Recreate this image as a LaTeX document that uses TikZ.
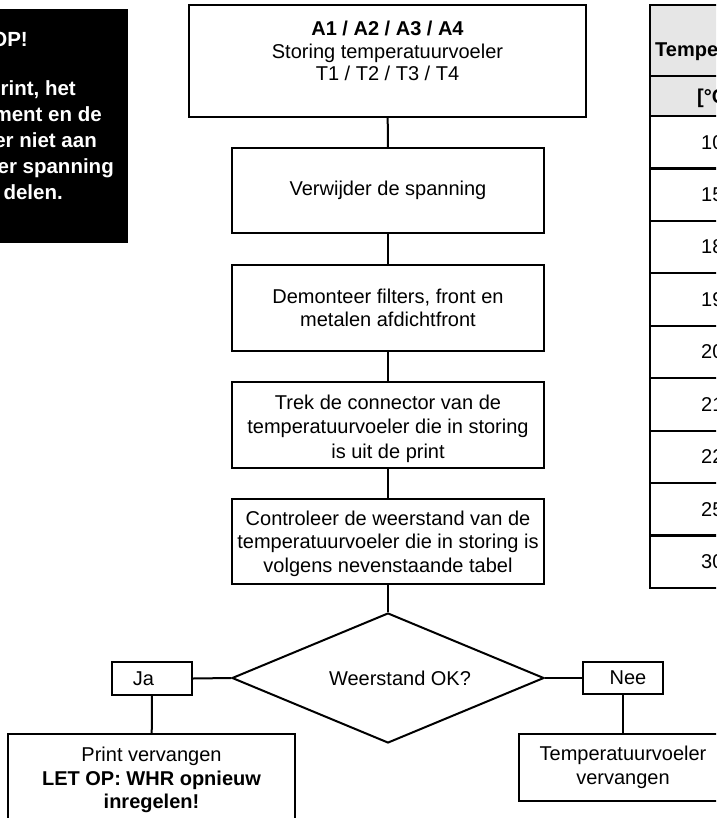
\documentclass[tikz,border=0pt]{standalone}
\usepackage{fontspec}
\setmainfont{Liberation Sans}
\usetikzlibrary{shapes.geometric}
\definecolor{hdrgray}{HTML}{E6E6E6}
\tikzset{
  x=1pt, y=-1pt,
  txt/.style={font=\fontsize{20}{23.5}\selectfont, align=center, inner sep=0pt},
  flowbox/.style={draw, line width=2pt, rectangle, inner sep=0pt, txt},
  link/.style={line width=2pt},
  warn/.style={font=\fontsize{20.5}{26}\selectfont\bfseries, text=white, inner sep=0pt, anchor=mid east},
  tline/.style={line width=2.2pt},
}
\begin{document}
\begin{tikzpicture}
\useasboundingbox (0,0) rectangle (716,818);
\clip (0,0) rectangle (716,818);
\fill[white] (0,0) rectangle (716,818);

% warning box (cropped at left)
\fill[black] (-5,9) rectangle (128,243);
\node[warn] (w1) at (28,44) {OP!};
\node[warn] (w2) at (76,93) {rint, het};
\node[warn] (w3) at (102,119) {ment en de};
\node[warn] (w4) at (97,145) {er niet aan};
\node[warn] (w5) at (114,171) {er spanning};
\node[warn] (w6) at (63,197) {delen.};

% flow chart
\node[flowbox, minimum width=397pt, minimum height=112pt] (b1) at (387.5,61) {};
\node[txt, font=\fontsize{20}{22.5}\selectfont] (t1) at (387.5,51) {\textbf{A1 / A2 / A3 / A4}\\Storing temperatuurvoeler\\T1 / T2 / T3 / T4};
\node[flowbox, minimum width=312pt, minimum height=85pt] (b2) at (388,190.5) {Verwijder de spanning};
\node[flowbox, minimum width=312pt, minimum height=86pt] (b3) at (388,308) {Demonteer filters, front en\\metalen afdichtfront};
\node[txt, font=\fontsize{20}{24.5}\selectfont] (t4) at (388,428.5) {Trek de connector van de\\temperatuurvoeler die in storing\\is uit de print};
\node[flowbox, minimum width=312pt, minimum height=86pt] (b4) at (388,425) {};
\node[flowbox, minimum width=312pt, minimum height=85pt] (b5) at (388,541.5) {};
\node[txt] (t5) at (388,543.5) {Controleer de weerstand van de\\temperatuurvoeler die in storing is\\volgens nevenstaande tabel};
\node[draw, line width=2pt, diamond, aspect=2.4, inner sep=0pt, minimum width=312pt, minimum height=130pt, txt] (d) at (388,678) {\hspace*{24pt}Weerstand OK?};
\node[flowbox, minimum width=80pt, minimum height=33pt] (ja) at (152,678.5) {Ja\hspace*{17pt}};
\node[flowbox, minimum width=80pt, minimum height=32pt] (nee) at (623,678) {\hspace*{10pt}Nee};
\node[flowbox, minimum width=287pt, minimum height=92pt] (pv) at (151.5,780) {Print vervangen\\\textbf{LET OP: WHR opnieuw}\\\textbf{inregelen!}};
\node[flowbox, minimum width=208pt, minimum height=67pt] (tv) at (623,767.5) {Temperatuurvoeler\\vervangen};

\draw[link] (b1) -- (b2);
\draw[link] (b2) -- (b3);
\draw[link] (b3) -- (b4);
\draw[link] (b4) -- (b5);
\draw[link] (b5) -- (d.north);
\draw[link] (d.west) -- (ja.east);
\draw[link] (ja) -- (pv);
\draw[link] (d.east) -- (nee.west);
\draw[link] (nee) -- (tv);

% table (cropped at right)
\fill[hdrgray] (650,5) rectangle (730,116);
\draw[tline] (730,5) -- (650,5) -- (650,588) -- (730,588);
\draw[tline] (650,76) -- (730,76);
\foreach \i in {0,...,8} {
  \draw[tline] (650,{116+52.44*\i}) -- (730,{116+52.44*\i});
}
\node[txt, font=\fontsize{20}{23.5}\selectfont\bfseries, anchor=west] (h1) at (655,52) {Tempe};
\node[txt, font=\fontsize{20}{23.5}\selectfont\bfseries, anchor=west] (h2) at (697,98) {[°C};
\foreach \v [count=\i from 0] in {10,15,18,19,20,21,22,25,30} {
  \node[txt, anchor=west] (r\i) at (701,{142.2+52.44*\i}) {\v};
}
\end{tikzpicture}
\end{document}
